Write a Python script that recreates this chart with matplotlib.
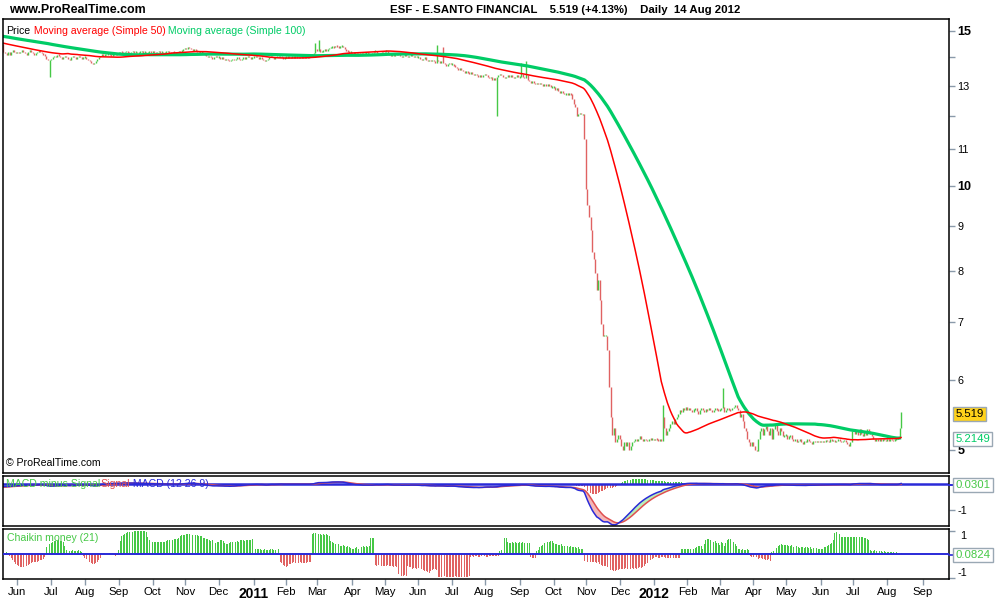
import numpy as np
import pandas as pd
import matplotlib
matplotlib.use("Agg")
import matplotlib.pyplot as plt
from matplotlib.ticker import NullLocator

plt.rcParams['font.family'] = ['Liberation Sans', 'DejaVu Sans']

# ---------------- DATA (daily closes, grouped by month) ----------------
close_months = [
    ("2009-12", [15.00, 15.10, 15.05, 15.12]),
    ("2010-01", [15.20, 15.30, 15.25, 15.35, 15.30, 15.20, 15.15, 15.10, 15.20, 15.25, 15.15, 15.10, 15.05, 15.10, 15.20, 15.15, 15.10, 15.05, 15.00, 15.05, 15.10]),
    ("2010-02", [15.10, 15.05, 14.95, 14.90, 15.00, 15.05, 15.10, 15.15, 15.10, 15.05, 15.00, 15.05, 15.10, 15.05, 15.00, 14.95, 15.00, 15.05, 15.00, 14.95]),
    ("2010-03", [14.90, 14.85, 14.90, 14.85, 14.80, 14.85, 14.80, 14.75, 14.80, 14.85, 14.80, 14.75, 14.80, 14.85, 14.80, 14.75, 14.80, 14.75, 14.80, 14.85, 14.80, 14.75, 14.80]),
    ("2010-04", [14.75, 14.80, 14.70, 14.75, 14.70, 14.65, 14.70, 14.75, 14.70, 14.65, 14.70, 14.55, 14.50, 14.45, 14.40, 14.35, 14.45, 14.40, 14.35, 14.30, 14.40, 14.35]),
    ("2010-05", [14.30, 14.00, 13.80, 13.70, 13.90, 14.50, 14.40, 14.30, 14.20, 14.10, 14.15, 14.50, 14.20, 14.15, 14.10, 14.20, 14.10, 14.20, 14.25, 14.20, 14.15]),
    ("2010-06", [14.20, 14.15, 14.20, 14.25, 14.20, 14.15, 14.10, 14.20, 14.25, 14.20, 14.15, 14.10, 14.15, 14.20, 14.25, 14.20, 14.15, 14.10, 14.05, 13.95, 13.90, 13.90]),
    ("2010-07", [13.95, 14.00, 14.05, 14.00, 14.10, 14.05, 14.00, 13.95, 14.00, 14.05, 14.00, 13.95, 13.90, 14.00, 14.05, 14.00, 13.95, 14.00, 14.05, 14.00, 13.95, 14.00]),
    ("2010-08", [14.00, 13.95, 13.90, 13.85, 13.80, 13.75, 13.80, 13.85, 13.95, 14.00, 14.05, 14.10, 14.05, 14.10, 14.10, 14.15, 14.10, 14.05, 14.10, 14.15, 14.10, 14.15]),
    ("2010-09", [14.15, 14.20, 14.18, 14.15, 14.20, 14.22, 14.18, 14.15, 14.20, 14.22, 14.18, 14.20, 14.15, 14.18, 14.20, 14.22, 14.18, 14.20, 14.15, 14.18, 14.20, 14.18]),
    ("2010-10", [14.20, 14.18, 14.15, 14.20, 14.22, 14.18, 14.20, 14.15, 14.18, 14.20, 14.22, 14.18, 14.15, 14.20, 14.18, 14.15, 14.20, 14.22, 14.20, 14.25, 14.30]),
    ("2010-11", [14.35, 14.30, 14.38, 14.35, 14.30, 14.25, 14.30, 14.25, 14.20, 14.22, 14.18, 14.20, 14.15, 14.10, 14.05, 14.00, 14.05, 14.00, 13.95, 14.00, 14.05, 14.00]),
    ("2010-12", [14.00, 13.95, 14.00, 13.95, 13.90, 13.95, 13.90, 13.85, 13.90, 13.95, 13.90, 13.95, 14.00, 13.95, 13.90, 13.95, 14.00, 13.95, 14.00, 14.05, 14.00, 13.95, 14.00]),
    ("2011-01", [14.00, 14.05, 14.00, 13.95, 14.00, 13.95, 13.90, 13.85, 13.90, 13.95, 14.00, 14.05, 14.00, 13.95, 14.00, 14.05, 14.00, 14.05, 14.00, 13.95, 14.00]),
    ("2011-02", [14.00, 14.02, 14.00, 13.98, 14.02, 14.00, 14.03, 14.00, 13.98, 14.00, 14.02, 14.00, 13.98, 14.00, 14.02, 14.00, 14.05, 14.10, 14.15, 14.30]),
    ("2011-03", [14.25, 14.30, 14.20, 14.22, 14.25, 14.28, 14.25, 14.30, 14.35, 14.38, 14.40, 14.38, 14.42, 14.40, 14.38, 14.40, 14.42, 14.38, 14.30, 14.25, 14.20, 14.18, 14.20]),
    ("2011-04", [14.15, 14.18, 14.15, 14.20, 14.15, 14.12, 14.15, 14.10, 14.15, 14.18, 14.15, 14.12, 14.10, 14.15, 14.20, 14.25, 14.15, 14.10, 14.15, 14.20, 14.15]),
    ("2011-05", [14.20, 14.25, 14.15, 14.10, 14.05, 14.10, 14.05, 14.10, 14.15, 14.10, 14.05, 14.00, 14.05, 14.10, 14.05, 14.00, 14.05, 14.10, 14.05, 14.00, 14.05, 14.00]),
    ("2011-06", [14.00, 13.95, 13.90, 13.95, 14.00, 13.90, 13.85, 13.90, 13.85, 13.90, 13.85, 13.80, 13.90, 13.85, 13.80, 13.85, 13.80, 13.75, 13.70, 13.75, 13.80, 13.75]),
    ("2011-07", [13.75, 13.70, 13.65, 13.60, 13.55, 13.60, 13.55, 13.50, 13.45, 13.50, 13.45, 13.40, 13.45, 13.40, 13.35, 13.40, 13.35, 13.30, 13.35, 13.30, 13.35]),
    ("2011-08", [13.40, 13.35, 13.30, 13.25, 13.30, 13.20, 13.25, 13.20, 13.30, 13.35, 13.40, 13.35, 13.30, 13.25, 13.30, 13.35, 13.30, 13.35, 13.30, 13.25, 13.30, 13.35, 13.30]),
    ("2011-09", [13.30, 13.40, 13.30, 13.25, 13.35, 13.20, 13.15, 13.10, 13.15, 13.10, 13.05, 13.10, 13.05, 13.10, 13.05, 13.00, 13.05, 13.00, 13.05, 13.00, 12.95, 12.95]),
    ("2011-10", [12.95, 12.85, 12.90, 12.80, 12.75, 12.80, 12.75, 12.70, 12.72, 12.70, 12.72, 12.70, 12.55, 12.40, 12.30, 12.00, 12.05, 12.10, 12.05, 12.05, 11.30]),
    ("2011-11", [9.90, 9.50, 9.20, 8.90, 8.40, 8.25, 7.95, 7.60, 7.80, 7.40, 6.95, 6.75, 6.75, 6.75, 6.50, 5.90, 5.45, 5.20, 5.30, 5.10, 5.15, 5.20]),
    ("2011-12", [5.15, 5.05, 5.00, 5.10, 5.05, 5.10, 5.00, 5.05, 5.10, 5.12, 5.15, 5.12, 5.15, 5.18, 5.15, 5.12, 5.15, 5.13, 5.12, 5.15, 5.14, 5.15]),
    ("2012-01", [5.13, 5.15, 5.14, 5.12, 5.15, 5.12, 5.45, 5.30, 5.20, 5.25, 5.30, 5.35, 5.40, 5.35, 5.42, 5.45, 5.50, 5.55, 5.52, 5.58, 5.55, 5.60]),
    ("2012-02", [5.55, 5.58, 5.55, 5.52, 5.56, 5.58, 5.54, 5.50, 5.55, 5.58, 5.55, 5.52, 5.56, 5.55, 5.58, 5.55, 5.52, 5.55, 5.58, 5.56, 5.55]),
    ("2012-03", [5.55, 5.58, 5.60, 5.52, 5.55, 5.58, 5.56, 5.55, 5.58, 5.60, 5.62, 5.58, 5.55, 5.45, 5.50, 5.40, 5.30, 5.25, 5.15, 5.10, 5.05, 5.10]),
    ("2012-04", [5.05, 5.00, 4.98, 5.15, 5.25, 5.30, 5.20, 5.28, 5.32, 5.25, 5.20, 5.30, 5.15, 5.28, 5.35, 5.25, 5.20, 5.30, 5.25, 5.18, 5.20]),
    ("2012-05", [5.20, 5.15, 5.18, 5.20, 5.15, 5.12, 5.15, 5.10, 5.12, 5.15, 5.10, 5.08, 5.12, 5.10, 5.15, 5.12, 5.10, 5.08, 5.12, 5.10, 5.12, 5.10, 5.12]),
    ("2012-06", [5.10, 5.12, 5.10, 5.13, 5.12, 5.10, 5.14, 5.12, 5.13, 5.10, 5.12, 5.14, 5.12, 5.10, 5.12, 5.13, 5.10, 5.08, 5.05, 5.10, 5.25]),
    ("2012-07", [5.28, 5.22, 5.25, 5.20, 5.28, 5.22, 5.18, 5.25, 5.20, 5.28, 5.25, 5.22, 5.18, 5.15, 5.12, 5.15, 5.12, 5.14, 5.12, 5.15, 5.13, 5.12]),
    ("2012-08", [5.14, 5.12, 5.15, 5.13, 5.12, 5.14, 5.15, 5.17, 5.30, 5.519]),
]

# intraday extremes (wicks) on a few days
spike_dates = ["2010-06-30", "2011-02-28", "2011-03-02", "2011-06-17", "2011-06-23",
               "2011-08-11", "2011-09-02", "2011-09-07", "2012-01-10", "2012-03-05"]
spike_values = [13.30, 14.55, 14.65, 14.45, 14.40, 12.00, 13.80, 13.85, 5.62, 5.88]

# Chaikin money flow (21), daily, from 19 May 2010
chaikin_months = [
    ("2010-05", [0.06, 0.08, 0.10, 0.08, -0.08, -0.15, -0.25, -0.34, -0.40]),
    ("2010-06", [-0.46, -0.50, -0.52, -0.53, -0.52, -0.50, -0.48, -0.45, -0.41, -0.36, -0.31, -0.33, -0.34, -0.30, -0.27, -0.25, -0.22, -0.18, -0.10, 0.30, 0.40, 0.45]),
    ("2010-07", [0.50, 0.53, 0.56, 0.58, 0.58, 0.60, 0.58, 0.57, 0.55, 0.37, 0.20, 0.15, 0.14, 0.16, 0.17, 0.15, 0.13, 0.15, 0.17, 0.14, 0.10, -0.08]),
    ("2010-08", [-0.13, -0.20, -0.30, -0.34, -0.38, -0.41, -0.40, -0.38, -0.30, -0.23, -0.15, 0.05, 0.06, 0.05, 0.04, 0.06, 0.05, 0.04, 0.03, -0.04, -0.05, -0.03]),
    ("2010-09", [0.20, 0.58, 0.79, 0.85, 0.89, 0.92, 0.95, 0.96, 0.97, 0.96, 0.98, 0.99, 0.99, 1.00, 0.99, 0.98, 0.99, 0.99, 0.97, 0.75, 0.62, 0.57]),
    ("2010-10", [0.55, 0.53, 0.54, 0.52, 0.53, 0.55, 0.54, 0.52, 0.55, 0.57, 0.60, 0.62, 0.60, 0.63, 0.65, 0.64, 0.66, 0.70, 0.78, 0.84, 0.85]),
    ("2010-11", [0.85, 0.86, 0.86, 0.87, 0.86, 0.85, 0.86, 0.84, 0.83, 0.80, 0.78, 0.80, 0.72, 0.70, 0.68, 0.65, 0.62, 0.58, 0.60, 0.55, 0.50, 0.52]),
    ("2010-12", [0.55, 0.60, 0.62, 0.58, 0.50, 0.45, 0.44, 0.50, 0.55, 0.53, 0.50, 0.55, 0.58, 0.55, 0.60, 0.62, 0.60, 0.58, 0.62, 0.63, 0.60, 0.62, 0.64]),
    ("2011-01", [0.30, 0.25, 0.22, 0.24, 0.23, 0.20, 0.18, 0.22, 0.20, 0.18, 0.20, 0.22, 0.23, 0.21, 0.20, 0.22, 0.23, -0.30, -0.38, -0.45, -0.50]),
    ("2011-02", [-0.52, -0.48, -0.40, -0.42, -0.38, -0.34, -0.36, -0.38, -0.36, -0.34, -0.35, -0.37, -0.38, -0.36, -0.34, -0.32, -0.34, 0.88, 0.90, 0.90]),
    ("2011-03", [0.90, 0.88, 0.86, 0.85, 0.87, 0.85, 0.86, 0.84, 0.80, 0.58, 0.52, 0.48, 0.45, 0.42, 0.45, 0.38, 0.36, 0.40, 0.35, 0.33, 0.36, 0.30, 0.28]),
    ("2011-04", [0.25, 0.23, 0.28, 0.30, 0.25, 0.22, 0.30, 0.35, 0.32, 0.37, 0.33, 0.36, 0.72, 0.72, 0.72, -0.45, -0.48, -0.46, -0.48, -0.47, -0.50]),
    ("2011-05", [-0.48, -0.50, -0.46, -0.48, -0.50, -0.49, -0.52, -0.50, -0.55, -0.85, -0.90, -0.92, -0.90, -0.88, -0.90, -0.50, -0.52, -0.55, -0.60, -0.58, -0.56, -0.60]),
    ("2011-06", [-0.58, -0.60, -0.62, -0.65, -0.70, -0.72, -0.75, -0.77, -0.70, -0.65, -0.60, -0.62, -0.65, -0.94, -0.94, -0.95, -0.94, -0.93, -0.94, -0.94, -0.95, -0.94]),
    ("2011-07", [-0.94, -0.94, -0.93, -0.94, -0.95, -0.94, -0.94, -0.93, -0.94, -0.94, -0.94, -0.93, -0.10, -0.08, -0.09, -0.07, -0.08, -0.10, -0.09, -0.08, -0.10]),
    ("2011-08", [-0.08, -0.10, -0.09, -0.07, -0.08, -0.06, -0.08, -0.07, -0.05, -0.06, 0.16, 0.18, 0.68, 0.70, 0.72, 0.52, 0.50, 0.51, 0.53, 0.50, 0.52, 0.50, 0.51]),
    ("2011-09", [0.52, 0.50, 0.53, 0.50, 0.52, 0.50, 0.48, -0.12, -0.15, -0.16, -0.14, 0.16, 0.20, 0.34, 0.38, 0.42, 0.48, 0.52, 0.54, 0.55, 0.57, 0.58]),
    ("2011-10", [0.50, 0.46, 0.44, 0.42, 0.40, 0.44, 0.38, 0.36, 0.40, 0.35, 0.32, 0.36, 0.33, 0.30, 0.32, 0.28, 0.30, 0.25, 0.23, 0.22, -0.27]),
    ("2011-11", [-0.30, -0.32, -0.34, -0.30, -0.33, -0.34, -0.32, -0.35, -0.34, -0.40, -0.46, -0.48, -0.50, -0.48, -0.52, -0.60, -0.64, -0.68, -0.72, -0.70, -0.66, -0.64]),
    ("2011-12", [-0.60, -0.60, -0.62, -0.60, -0.58, -0.60, -0.61, -0.60, -0.59, -0.60, -0.58, -0.60, -0.57, -0.55, -0.56, -0.55, -0.50, -0.42, -0.36, -0.30, -0.25, -0.20]),
    ("2012-01", [-0.15, -0.12, -0.10, -0.13, -0.15, -0.12, -0.10, -0.12, -0.15, -0.17, -0.15, -0.13, -0.16, -0.15, -0.17, -0.15, -0.14, -0.16, 0.22, 0.23, 0.25, 0.22]),
    ("2012-02", [0.24, 0.22, 0.25, 0.23, 0.22, 0.26, 0.30, 0.37, 0.35, 0.38, 0.25, 0.45, 0.60, 0.66, 0.64, 0.62, 0.65, 0.52, 0.58, 0.50, 0.48]),
    ("2012-03", [0.42, 0.55, 0.48, 0.35, 0.50, 0.60, 0.65, 0.68, 0.62, 0.55, 0.45, 0.38, 0.25, 0.22, 0.20, 0.24, 0.20, 0.18, 0.22, 0.20, -0.08, -0.12]),
    ("2012-04", [-0.10, -0.15, -0.12, -0.18, -0.14, -0.16, -0.20, -0.18, -0.22, -0.25, -0.20, -0.28, 0.10, 0.16, 0.20, 0.28, 0.35, 0.40, 0.44, 0.42, 0.40]),
    ("2012-05", [0.42, 0.40, 0.38, 0.35, 0.40, 0.30, 0.32, 0.35, 0.30, 0.28, 0.32, 0.30, 0.26, 0.30, 0.32, 0.28, 0.30, 0.25, 0.28, 0.30, 0.26, 0.22, 0.25]),
    ("2012-06", [0.22, 0.25, 0.30, 0.32, 0.35, 0.40, 0.44, 0.50, 0.60, 0.90, 0.95, 0.94, 0.88, 0.76, 0.75, 0.74, 0.76, 0.75, 0.74, 0.76, 0.75]),
    ("2012-07", [0.75, 0.74, 0.76, 0.74, 0.75, 0.73, 0.74, 0.72, 0.70, 0.68, 0.62, 0.20, 0.15, 0.16, 0.17, 0.15, 0.14, 0.16, 0.13, 0.12, 0.14, 0.12]),
    ("2012-08", [0.10, 0.12, 0.10, 0.09, 0.10, 0.08, 0.09, 0.10, 0.07, 0.0824]),
]

title_left = "www.ProRealTime.com"
title_right = "ESF - E.SANTO FINANCIAL    5.519 (+4.13%)    Daily  14 Aug 2012"
last_price_label = "5.519"
ma100_label = "5.2149"
macd_label = "0.0301"
chaikin_label = "0.0824"

# ---------------- helpers ----------------
def build(months):
    idx, vals = [], []
    for k, (ym, L) in enumerate(months):
        start = pd.Timestamp(ym + "-01")
        d = pd.bdate_range(start, start + pd.offsets.MonthEnd(0))
        d = d[-len(L):] if k == 0 else d[:len(L)]
        n = min(len(d), len(L))
        idx.extend(list(d[:n]))
        vals.extend(L[:n])
    return pd.Series(vals, index=pd.DatetimeIndex(idx), dtype=float)

close = build(close_months)
chaikin = build(chaikin_months)

all_days = pd.bdate_range("2009-12-28", "2012-10-31")
xc = all_days.get_indexer(close.index).astype(float)
xk = all_days.get_indexer(chaikin.index).astype(float)
p0 = all_days.get_loc(pd.Timestamp("2010-06-01"))
x_lo, x_hi = p0 - 9.1, p0 + 606.4

ma50 = close.rolling(50).mean()
ma100 = close.rolling(100).mean()
ema12 = close.ewm(span=12, adjust=False).mean()
ema26 = close.ewm(span=26, adjust=False).mean()
macd = ema12 - ema26
signal = macd.ewm(span=9, adjust=False).mean()
hist = macd - signal

GREEN = '#46c846'
RED = '#e06262'
MA50_C = '#ff0000'
MA100_C = '#00cc66'
BLUE = '#2a2ad8'
TICK_C = '#8a9aaa'
FS = 7.6

fig = plt.figure(figsize=(10, 6), dpi=100)
L, W = 0.0033, 0.946
ax_p = fig.add_axes([L, 1 - 473 / 600, W, 454 / 600])
ax_m = fig.add_axes([L, 1 - 525.7 / 600, W, 49.7 / 600])
ax_c = fig.add_axes([L, 1 - 579 / 600, W, 49.7 / 600])

for ax in (ax_p, ax_m, ax_c):
    ax.set_xlim(x_lo, x_hi)
    for s in ax.spines.values():
        s.set_linewidth(1.1)
        s.set_color('black')
    ax.yaxis.tick_right()
    ax.tick_params(axis='y', direction='out', length=4, width=1, color=TICK_C,
                   labelsize=7.8, pad=2, labelcolor='black')
    ax.tick_params(axis='x', bottom=False, labelbottom=False)
    ax.yaxis.set_minor_locator(NullLocator())

# ---------------- price panel ----------------
opens = close.shift(1).fillna(close)
hi = np.maximum(opens.values, close.values)
lo = np.minimum(opens.values, close.values)
spk = pd.Series(spike_values, index=pd.DatetimeIndex(spike_dates))
for d, v in spk.items():
    i = close.index.get_loc(d)
    hi[i] = max(hi[i], v)
    lo[i] = min(lo[i], v)
small = hi / lo < 1.004
mid = np.sqrt(hi * lo)
hi = np.where(small, mid * 1.002, hi)
lo = np.where(small, mid / 1.002, lo)
cols = np.where(close.values >= opens.values, GREEN, RED)
ax_p.vlines(xc, lo, hi, colors=cols, linewidth=1.0)
ax_p.plot(xc, ma100.values, color=MA100_C, lw=2.3, solid_capstyle='butt')
ax_p.plot(xc, ma50.values, color=MA50_C, lw=1.1)
ax_p.set_yscale('log')
ax_p.set_ylim(4.707, 15.477)
ax_p.yaxis.set_minor_locator(NullLocator())
pt = [5, 6, 7, 8, 9, 10, 11, 12, 13, 14, 15]
pl = ['5', '6', '7', '8', '9', '10', '11', '', '13', '', '15']
ax_p.set_yticks(pt, pl)
for t in ax_p.get_yticklabels():
    if t.get_text() in ('5', '10', '15'):
        t.set_fontweight('bold')
        t.set_fontsize(9)

# header inside the price panel
t0 = ax_p.text(0.0035, 0.985, "Price", transform=ax_p.transAxes, fontsize=FS,
               va='top', ha='left', color='black')
t1 = ax_p.annotate(" Moving average (Simple 50)", xy=(1, 0), xycoords=t0, va='bottom',
                   fontsize=FS, color=MA50_C, annotation_clip=False)
t2 = ax_p.annotate(" Moving average (Simple 100)", xy=(1, 0), xycoords=t1, va='bottom',
                   fontsize=FS, color=MA100_C, annotation_clip=False)
ax_p.text(0.003, 0.012, "\u00a9 ProRealTime.com", transform=ax_p.transAxes, fontsize=FS,
          va='bottom', ha='left', color='black')

# ---------------- MACD panel ----------------
xm = xc
ax_m.fill_between(xm, macd.values, signal.values, where=(macd.values < signal.values),
                  color='#f4b6b6', interpolate=True, lw=0)
ax_m.fill_between(xm, macd.values, signal.values, where=(macd.values >= signal.values),
                  color='#b8efb8', interpolate=True, lw=0)
hcols = np.where(hist.values >= 0, GREEN, RED)
ax_m.bar(xm, hist.values, width=0.6, color=hcols, lw=0)
ax_m.axhline(0, color=BLUE, lw=1.8, zorder=1)
ax_m.plot(xm, signal.values, color='#e05050', lw=1.1)
ax_m.plot(xm, macd.values, color=BLUE, lw=1.1)
ax_m.set_ylim(-1.611, 0.323)
ax_m.set_yticks([-1], ['-1'])
m0 = ax_m.text(0.003, 0.84, "MACD minus Signal", transform=ax_m.transAxes, fontsize=FS,
               va='center', ha='left', color=GREEN)
m1 = ax_m.annotate("Signal", xy=(1, 0), xycoords=m0, va='bottom', fontsize=FS,
                   color='#e05050', annotation_clip=False)
ax_m.annotate(" MACD (12 26 9)", xy=(1, 0), xycoords=m1, va='bottom', fontsize=FS,
              color=BLUE, annotation_clip=False)

# ---------------- Chaikin panel ----------------
ccols = np.where(chaikin.values >= 0, GREEN, RED)
ax_c.bar(xk, chaikin.values, width=0.6, color=ccols, lw=0)
ax_c.axhline(0, color=BLUE, lw=1.4, zorder=3)
ax_c.set_ylim(-1.043, 1.072)
ax_c.set_yticks([-1, 1], ['', ''])
ax_c.text(1.012, 0.79, "1", transform=ax_c.get_yaxis_transform(), fontsize=7.8,
          va='center', ha='left')
ax_c.text(1.009, -0.79, "-1", transform=ax_c.get_yaxis_transform(), fontsize=7.8,
          va='center', ha='left')
ax_c.text(0.004, 0.83, "Chaikin money (21)", transform=ax_c.transAxes, fontsize=FS,
          va='center', ha='left', color=GREEN)

# x-axis month ticks
month_starts = pd.date_range("2010-06-01", "2012-09-01", freq='MS')
tick_pos, tick_lab = [], []
for m in month_starts:
    first = all_days[all_days >= m][0]
    tick_pos.append(all_days.get_loc(first))
    tick_lab.append(str(m.year) if m.month == 1 else m.strftime('%b'))
ax_c.set_xticks(tick_pos, tick_lab)
ax_c.tick_params(axis='x', bottom=True, labelbottom=True, direction='out', length=4,
                 width=1, color=TICK_C, labelsize=8.2, pad=1.5)
for t in ax_c.get_xticklabels():
    if t.get_text().isdigit():
        t.set_fontweight('bold')
        t.set_fontsize(10)
ax_c.set_xlim(x_lo, x_hi)

# ---------------- titles ----------------
fig.text(0.009, 1 - 10 / 600, title_left, fontsize=8.9, fontweight='bold', va='center', ha='left')
fig.text(0.390, 1 - 10 / 600, title_right, fontsize=8.2, fontweight='bold', va='center', ha='left')

# ---------------- value boxes on the right ----------------
def vbox(y_px, txt, fc, tc):
    fig.text(0.9555, 1 - y_px / 600, txt, fontsize=8.2, color=tc, va='center', ha='left',
             bbox=dict(boxstyle='square,pad=0.18', fc=fc, ec='#9aa8b4', lw=1.0))

vbox(414, last_price_label, '#ffd21a', 'black')
vbox(439, ma100_label, 'white', MA100_C)
vbox(485, macd_label, 'white', GREEN)
vbox(555, chaikin_label, 'white', GREEN)
fig.add_artist(plt.Line2D([0.949, 0.956], [1 - 484.5 / 600] * 2, color=BLUE, lw=1.4))
fig.add_artist(plt.Line2D([0.949, 0.956], [1 - 555 / 600] * 2, color=BLUE, lw=1.2))

fig.savefig("out.png", dpi=100)
